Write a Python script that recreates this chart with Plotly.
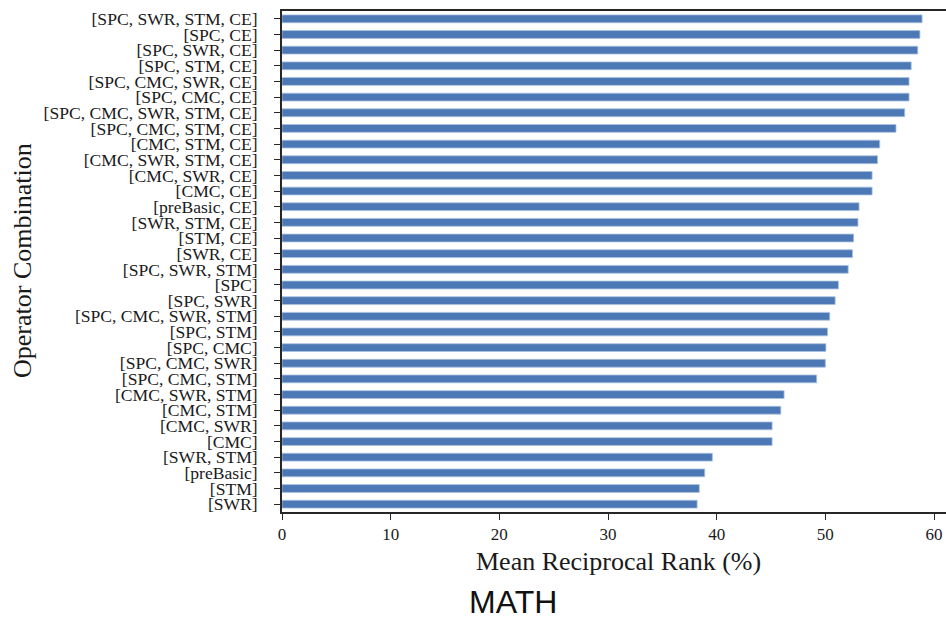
import plotly.graph_objects as go

categories = [
    "[SPC, SWR, STM, CE]", "[SPC, CE]", "[SPC, SWR, CE]", "[SPC, STM, CE]",
    "[SPC, CMC, SWR, CE]", "[SPC, CMC, CE]", "[SPC, CMC, SWR, STM, CE]",
    "[SPC, CMC, STM, CE]", "[CMC, STM, CE]", "[CMC, SWR, STM, CE]",
    "[CMC, SWR, CE]", "[CMC, CE]", "[preBasic, CE]", "[SWR, STM, CE]",
    "[STM, CE]", "[SWR, CE]", "[SPC, SWR, STM]", "[SPC]", "[SPC, SWR]",
    "[SPC, CMC, SWR, STM]", "[SPC, STM]", "[SPC, CMC]", "[SPC, CMC, SWR]",
    "[SPC, CMC, STM]", "[CMC, SWR, STM]", "[CMC, STM]", "[CMC, SWR]",
    "[CMC]", "[SWR, STM]", "[preBasic]", "[STM]", "[SWR]",
]
mrr = [
    58.9, 58.7, 58.5, 57.9, 57.7, 57.7, 57.3, 56.5, 55.0, 54.8, 54.3, 54.3,
    53.1, 53.0, 52.6, 52.5, 52.1, 51.2, 50.9, 50.4, 50.2, 50.05, 50.0,
    49.2, 46.2, 45.9, 45.1, 45.1, 39.6, 38.9, 38.4, 38.2,
]
x_ticks = [0, 10, 20, 30, 40, 50, 60]

fig = go.Figure(go.Bar(
    x=mrr, y=categories, orientation="h", width=0.5,
    marker=dict(color="#4C79B5", line=dict(color="#A9C1E0", width=0.8)),
))

serif = "Liberation Serif, Times New Roman, serif"
L, R, T, B = 282, 0, 11, 107
W, H = 946, 619
w_plot = W - L - R
h_plot = H - T - B

def px_x(px):
    return (px - L) / w_plot

def px_y(py):
    return (H - B - py) / h_plot

fig.update_layout(
    width=W, height=H,
    margin=dict(l=L, r=R, t=T, b=B, autoexpand=False),
    plot_bgcolor="white", paper_bgcolor="white",
    showlegend=False,
    font=dict(family=serif, size=17, color="#1a1a1a"),
    xaxis=dict(
        range=[0, 61.1], tickvals=x_ticks, ticks="outside", ticklen=6,
        tickcolor="#262626", showline=True, linecolor="#262626", linewidth=1.5,
        mirror=True, showgrid=False, zeroline=False, automargin=False,
        tickfont=dict(family=serif, size=17, color="#1a1a1a"),
    ),
    yaxis=dict(
        categoryorder="array", categoryarray=categories[::-1],
        tickmode="array", tickvals=categories, ticktext=categories,
        range=[-0.5, len(categories) - 0.5],
        ticks="outside", ticklen=6, tickcolor="#262626",
        ticklabelstandoff=13,
        showline=True, linecolor="#262626", linewidth=1.5,
        showgrid=False, zeroline=False, automargin=False,
        tickfont=dict(family=serif, size=17.6, color="#1a1a1a"),
    ),
    annotations=[
        dict(text="Operator Combination", x=px_x(22), y=px_y(261),
             xref="paper", yref="paper", showarrow=False, textangle=-90,
             xanchor="center", yanchor="middle",
             font=dict(family=serif, size=26, color="#1a1a1a")),
        dict(text="Mean Reciprocal Rank (%)", x=px_x(618), y=px_y(561),
             xref="paper", yref="paper", showarrow=False,
             xanchor="center", yanchor="middle",
             font=dict(family=serif, size=26, color="#1a1a1a")),
        dict(text="MATH", x=px_x(513), y=px_y(602),
             xref="paper", yref="paper", showarrow=False,
             xanchor="center", yanchor="middle",
             font=dict(family="Liberation Sans, Arial, sans-serif", size=32, color="#111111")),
    ],
)

fig.write_html("out.html", config={"displayModeBar": False},
               post_script="document.body.style.margin='0';")
